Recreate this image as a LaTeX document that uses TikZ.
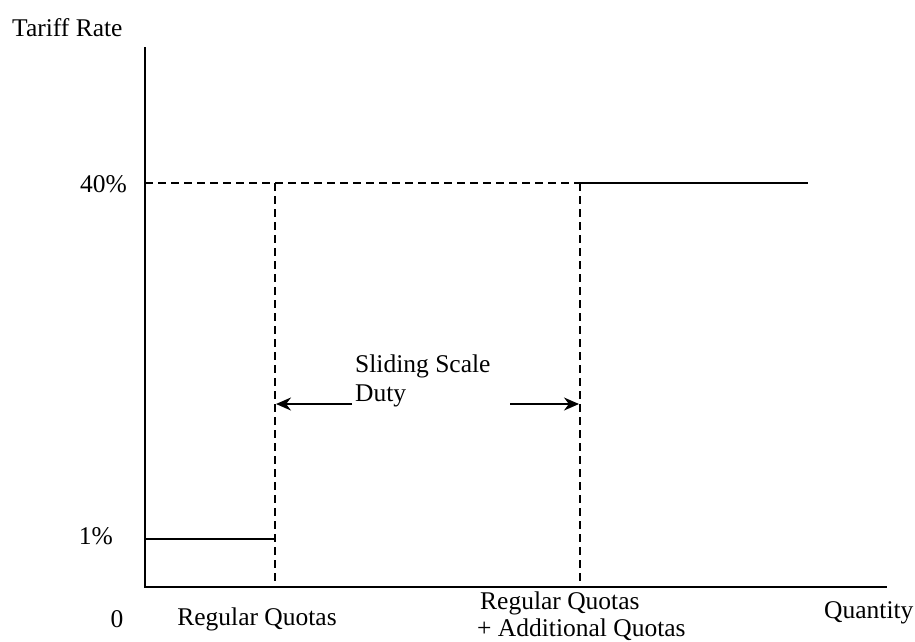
\documentclass[tikz,border=0pt]{standalone}
\usepackage{fontspec}
\setmainfont{Liberation Serif}
\usetikzlibrary{arrows.meta}
\begin{document}
\begin{tikzpicture}[x=1pt,y=-1pt,
  axis/.style={line width=2pt},
  solidline/.style={line width=2pt},
  dashline/.style={line width=1.8pt,dash pattern=on 8pt off 5pt},
  arr/.style={line width=1.8pt,-{Stealth[length=15pt,width=13pt]}},
  lbl/.style={inner sep=0pt,font=\fontsize{25.5}{28}\selectfont}]
\useasboundingbox (0,0) rectangle (915,641);
% axes
\coordinate (top) at (145,47);
\coordinate (o) at (145,587);
\coordinate (xend) at (887,587);
\draw[axis] (top) -- (o) -- (xend);
% key points
\coordinate (y40) at (145,183);
\coordinate (a40) at (275,183);
\coordinate (b40) at (580,183);
\coordinate (e40) at (808,183);
\coordinate (y1) at (145,539);
\coordinate (a1) at (275,539);
\coordinate (aB) at (275,587);
\coordinate (bB) at (580,587);
\draw[dashline] (y40) -- (b40);
\draw[solidline] (b40) -- (e40);
\draw[solidline] (y1) -- (a1);
\draw[dashline] (a40) -- (aB);
\draw[dashline] (b40) -- (bB);
% arrows
\coordinate (la) at (352,404);
\coordinate (lt) at (276,404);
\coordinate (ra) at (510,404);
\coordinate (rt) at (579,404);
\draw[arr] (la) -- (lt);
\draw[arr] (ra) -- (rt);
% labels
\node[lbl,anchor=west] (tr) at (12,28) {Tariff Rate};
\node[lbl,anchor=east] (l40) at (127,184) {40\%};
\node[lbl,anchor=east] (l1) at (113,536) {1\%};
\node[lbl,anchor=center] (l0) at (117,619) {0};
\node[lbl,anchor=center] (rq) at (257,619) {Regular Quotas};
\node[lbl,anchor=west] (rq2) at (480,603) {Regular Quotas};
\node[lbl,anchor=west] (aq) at (477,630) {+ Additional Quotas};
\node[lbl,anchor=west] (qt) at (824,613) {Quantity};
\node[lbl,anchor=west] (ss) at (355,366) {Sliding Scale};
\node[lbl,anchor=west] (du) at (355,396) {Duty};
\end{tikzpicture}
\end{document}
